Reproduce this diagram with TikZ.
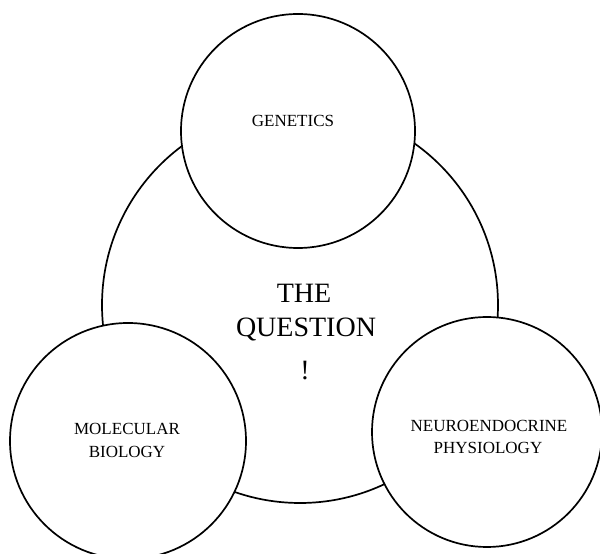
\documentclass[tikz,border=0pt]{standalone}
\usepackage{fontspec}
\setmainfont{Liberation Serif}
\begin{document}
\begin{tikzpicture}[x=1pt,y=1pt,
  ring/.style={circle,draw=black,line width=1.7pt,fill=white,inner sep=0pt},
  small/.style={anchor=base,inner sep=0pt,font=\fontsize{17}{22}\selectfont},
  big/.style={anchor=base,inner sep=0pt,font=\fontsize{28}{34}\selectfont}]
\useasboundingbox (0,0) rectangle (600,554);
\node[ring,minimum size=396pt] (question) at (300,249) {};
\node[ring,minimum size=234pt] (genetics) at (298,423) {};
\node[ring,minimum size=236pt] (molbio) at (128,113) {};
\node[ring,minimum size=230pt] (neuro) at (487,122) {};
\node[small] (gtext) at (293,427) {GENETICS};
\node[small] (m1) at (127,119) {MOLECULAR};
\node[small] (m2) at (127,96) {BIOLOGY};
\node[small] (n1) at (489,122) {NEUROENDOCRINE};
\node[small] (n2) at (488,100) {PHYSIOLOGY};
\node[big] (q1) at (304,251) {THE};
\node[big] (q2) at (306,217) {QUESTION};
\node[big] (q3) at (305,174) {!};
\end{tikzpicture}
\end{document}
